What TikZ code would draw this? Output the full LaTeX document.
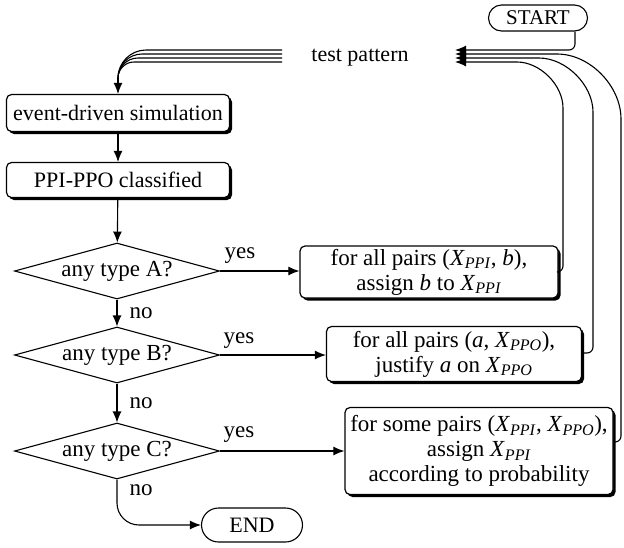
\documentclass[tikz,border=0pt]{standalone}
\usepackage{fontspec}
\setmainfont{Liberation Serif}
\usetikzlibrary{shapes.geometric, shapes.misc, shadows, arrows.meta}

\newcommand{\Xppi}{\textit{X}\textsubscript{\textit{PPI}}}
\newcommand{\Xppo}{\textit{X}\textsubscript{\textit{PPO}}}

\tikzset{
    flowbox/.style={draw, line width=1.2pt, rounded corners=5pt, fill=white, align=center, inner sep=2pt,
        drop shadow={shadow xshift=2.5pt, shadow yshift=-2.5pt, fill=black, opacity=1}},
    decide/.style={draw, diamond, line width=1.1pt, aspect=3.7, inner sep=0pt,
        minimum width=205pt, minimum height=56pt},
    terminal/.style={draw, rounded rectangle, line width=1.1pt, inner sep=2pt},
    flow/.style={line width=1.1pt, -{Latex[length=11pt, width=9pt]}},
    plain/.style={line width=1.1pt},
}

\begin{document}
\begin{tikzpicture}[x=1pt, y=-1pt, font=\fontsize{23}{25}\selectfont]
    \useasboundingbox (0,0) rectangle (624,547);

    \node[terminal, minimum width=103pt, minimum height=26pt, font=\fontsize{21}{23}\selectfont] (start) at (538,18) {START};
    \node[font=\fontsize{22}{24}\selectfont] (pattern) at (360,58) {test pattern};

    \node[flowbox, minimum width=223pt, minimum height=37pt, font=\fontsize{22}{24}\selectfont] (sim) at (118,113) {event-driven simulation};
    \node[flowbox, minimum width=223pt, minimum height=35pt, font=\fontsize{22}{24}\selectfont] (classify) at (118,180) {PPI-PPO classified};

    \node[decide] (typeA) at (117,271) {any type A?};
    \node[decide] (typeB) at (117,355) {any type B?};
    \node[decide] (typeC) at (117,451) {any type C?};

    \node[flowbox, minimum width=258pt, minimum height=52pt] (actA) at (429,272)
        {for all pairs (\Xppi, \textit{b}),\\ assign \textit{b} to \Xppi};
    \node[flowbox, minimum width=255pt, minimum height=55pt] (actB) at (454,354)
        {for all pairs (\textit{a}, \Xppo),\\ justify \textit{a} on \Xppo};
    \node[flowbox, minimum width=268pt, minimum height=87pt] (actC) at (479,451)
        {for some pairs (\Xppi, \Xppo),\\ assign \Xppi\\ according to probability};

    \node[terminal, minimum width=105pt, minimum height=34pt, font=\fontsize{22}{24}\selectfont] (stop) at (252,525) {END};

    % labels
    \node (yesA) at (240,256) {yes};
    \node (yesB) at (239,341) {yes};
    \node (yesC) at (239,435) {yes};
    \node (noA) at (141,313) {no};
    \node (noB) at (141,403) {no};
    \node (noC) at (141,490) {no};

    % test patterns into the simulation
    \coordinate (merge) at (118,78);
    \foreach \y/\r in {50/28, 54/24, 58/20, 62/16} {
        \draw[plain] (282,\y) -- (118+\r,\y) .. controls (118+0.45*\r,\y) and (118,\y+0.45*\r) .. (merge);
    }
    \draw[flow] (merge) -- (sim.north);
    \draw[flow] (sim) -- (classify);
    \draw[flow] (classify) -- (typeA);

    \draw[flow] (typeA) -- (typeB);
    \draw[flow] (typeB) -- (typeC);
    \draw[flow, rounded corners=22pt] (typeC.south) |- (stop.west);

    \draw[flow] (typeA.east) -- (typeA.east -| actA.west);
    \draw[flow] (typeB.east) -- (typeB.east -| actB.west);
    \draw[flow] (typeC.east) -- (typeC.east -| actC.west);

    % feedback to test pattern
    \draw[flow, rounded corners=6pt] ([xshift=37pt]start.south) |- (455,50);
    \draw[flow, rounded corners=6pt] ([yshift=9pt]actC.east) -| (621,125)
        .. controls (621,86) and (590,54) .. (551,54) -- (455,54);
    \draw[flow, rounded corners=6pt] ([yshift=1pt]actB.east) -| (593,118)
        .. controls (593,85) and (566,58) .. (533,58) -- (455,58);
    \draw[flow, rounded corners=6pt] (actA.east) -| (563,114)
        .. controls (563,85) and (540,62) .. (511,62) -- (455,62);
\end{tikzpicture}
\end{document}
